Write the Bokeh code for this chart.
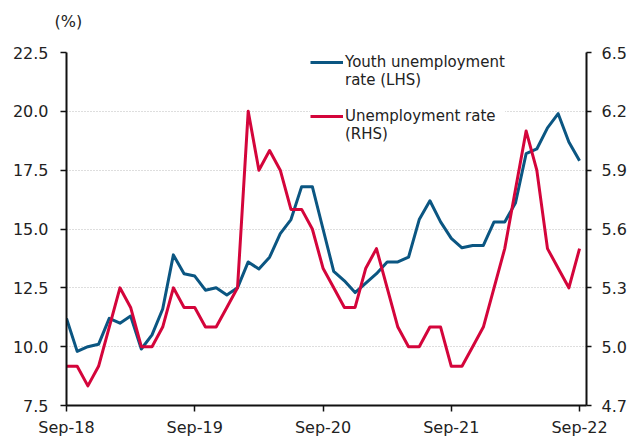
from bokeh.plotting import figure
from bokeh.models import (LinearAxis, Range1d, FixedTicker, Legend, LegendItem,
                          NumeralTickFormatter, ColumnDataSource)
from bokeh.embed import file_html
from bokeh.resources import INLINE

months = list(range(49))  # Sep-18 .. Sep-22, monthly
tick_pos = [0, 12, 24, 36, 48]
tick_labels = ["Sep-18", "Sep-19", "Sep-20", "Sep-21", "Sep-22"]

youth = [11.2, 9.8, 10.0, 10.1, 11.2, 11.0, 11.3, 9.9, 10.5, 11.6, 13.9, 13.1,
         13.0, 12.4, 12.5, 12.2, 12.5, 13.6, 13.3, 13.8, 14.8, 15.4, 16.8, 16.8,
         15.0, 13.2, 12.8, 12.3, 12.7, 13.1, 13.6, 13.6, 13.8, 15.4, 16.2, 15.3,
         14.6, 14.2, 14.3, 14.3, 15.3, 15.3, 16.1, 18.2, 18.4, 19.3, 19.9, 18.7,
         17.9]
unemp = [4.9, 4.9, 4.8, 4.9, 5.1, 5.3, 5.2, 5.0, 5.0, 5.1, 5.3, 5.2,
         5.2, 5.1, 5.1, 5.2, 5.3, 6.2, 5.9, 6.0, 5.9, 5.7, 5.7, 5.6,
         5.4, 5.3, 5.2, 5.2, 5.4, 5.5, 5.3, 5.1, 5.0, 5.0, 5.1, 5.1,
         4.9, 4.9, 5.0, 5.1, 5.3, 5.5, 5.8, 6.1, 5.9, 5.5, 5.4, 5.3,
         5.5]
left_ticks = [7.5, 10.0, 12.5, 15.0, 17.5, 20.0, 22.5]
right_ticks = [4.7, 5.0, 5.3, 5.6, 5.9, 6.2, 6.5]
legend_lines = [("Youth unemployment", "rate (LHS)"), ("Unemployment rate", "(RHS)")]
unit_label = "(%)"

BLUE = "#0b5682"
RED = "#d4053b"
FONT = "DejaVu Sans"

src = ColumnDataSource(dict(m=months, youth=youth, unemp=unemp))

p = figure(width=633, height=442, output_backend="svg", toolbar_location=None,
           x_range=Range1d(0, 48.65), y_range=Range1d(7.5, 22.5),
           min_border_left=66, min_border_right=47, min_border_top=52,
           min_border_bottom=37, title=unit_label + "\n ")
p.outline_line_color = None
p.background_fill_color = "white"
p.border_fill_color = "white"

p.title.text_font = FONT
p.title.text_font_size = "16px"
p.title.text_font_style = "normal"
p.title.text_color = "#222222"
p.title.align = "left"
p.title.offset = -12
p.title.standoff = 6

p.extra_y_ranges = {"rhs": Range1d(4.7, 6.5)}

for ax in p.yaxis:
    ax.ticker = FixedTicker(ticks=left_ticks)
    ax.formatter = NumeralTickFormatter(format="0.0")
for ax in p.xaxis:
    ax.ticker = FixedTicker(ticks=tick_pos)
    ax.major_label_overrides = {t: l for t, l in zip(tick_pos, tick_labels)}

rax = LinearAxis(y_range_name="rhs", ticker=FixedTicker(ticks=right_ticks),
                 formatter=NumeralTickFormatter(format="0.0"))
p.add_layout(rax, "right")

for ax in [p.xaxis[0], p.yaxis[0], rax]:
    ax.axis_line_color = "#111111"
    ax.axis_line_width = 2
    ax.major_tick_line_color = "#111111"
    ax.major_tick_line_width = 1.5
    ax.major_tick_out = 6
    ax.major_tick_in = 0
    ax.minor_tick_line_color = None
    ax.major_label_text_font = FONT
    ax.major_label_text_font_size = "16px"
    ax.major_label_text_color = "#222222"
p.yaxis[0].major_label_standoff = 12
rax.major_tick_out = 5
rax.major_label_standoff = 10
p.xaxis[0].major_label_standoff = 6

p.xgrid.grid_line_color = None
p.ygrid.ticker = FixedTicker(ticks=left_ticks)
p.ygrid.grid_line_color = "#bdbdbd"
p.ygrid.grid_line_dash = "1 2"
p.ygrid.grid_line_width = 1

r1 = p.line("m", "youth", source=src, line_color=BLUE, line_width=3, line_join="round")
r2 = p.line("m", "unemp", source=src, y_range_name="rhs", line_color=RED,
            line_width=3, line_join="round")

items = [LegendItem(label=legend_lines[0][0], renderers=[r1]),
         LegendItem(label=legend_lines[0][1], renderers=[]),
         LegendItem(label=" ", renderers=[]),
         LegendItem(label=legend_lines[1][0], renderers=[r2]),
         LegendItem(label=legend_lines[1][1], renderers=[])]
legend = Legend(items=items, location=(244, 262), orientation="vertical")
legend.label_text_font = FONT
legend.label_text_font_size = "15px"
legend.label_text_color = "#222222"
legend.label_text_line_height = 1.25
legend.label_height = 18
legend.glyph_width = 33
legend.glyph_height = 18
legend.label_standoff = 2
legend.spacing = 0
legend.padding = 0
legend.margin = 0
legend.border_line_color = None
legend.background_fill_color = "white"
legend.background_fill_alpha = 1.0
p.add_layout(legend, "center")

open("out.html", "w").write(file_html(p, INLINE))
